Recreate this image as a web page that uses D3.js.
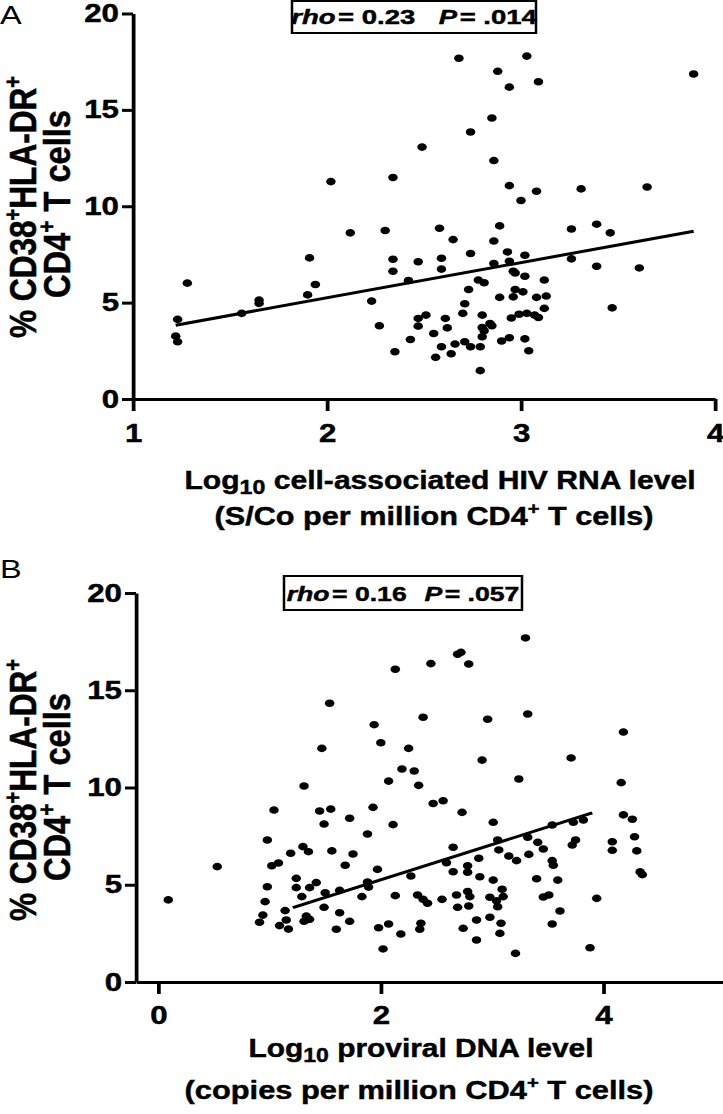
<!DOCTYPE html>
<html>
<head>
<meta charset="utf-8">
<script src="https://cdn.jsdelivr.net/npm/d3@7"></script>
<style>
  html, body { margin: 0; padding: 0; background: #fff; }
  svg { display: block; }
  text { font-family: "Liberation Sans", Arial, sans-serif; fill: #000; }
  text.heavy { stroke: #000; stroke-width: 0.45px; }
</style>
</head>
<body>
<svg id="fig"></svg>
<script>
// Panel A: cell-associated HIV RNA (log10) vs % CD38+HLA-DR+ CD4+ T cells
var rnaLog = [2.68, 3.03, 2.88, 2.94, 3.09, 3.89, 2.85, 2.74, 2.49, 2.86,
    2.02, 2.34, 2.94, 3.08, 3.31, 3.65, 3.00, 2.12, 2.30, 2.58,
    2.65, 2.89, 3.26, 3.39, 3.46, 1.91, 2.34, 2.47, 2.59, 2.74,
    2.86, 2.93, 3.02, 3.26, 3.39, 3.61, 2.34, 2.59, 2.86, 2.94,
    2.96, 2.97, 3.02, 3.12, 2.42, 2.78, 2.81, 1.94, 1.28, 2.73,
    2.97, 3.01, 2.96, 2.89, 3.08, 3.13, 1.90, 1.65, 1.65, 2.23,
    2.71, 3.12, 3.47, 1.56, 2.70, 2.80, 2.99, 3.03, 3.07, 3.09,
    2.95, 2.51, 2.47, 2.61, 1.23, 1.22, 1.23, 2.27, 2.47, 2.62,
    2.80, 2.84, 2.85, 2.81, 2.55, 2.43, 2.80, 2.90, 2.94, 3.02,
    2.71, 2.66, 2.59, 2.74, 2.79, 2.35, 2.64, 3.04, 2.56, 2.79];
var rnaCd38 = [17.68, 17.79, 17.00, 16.18, 16.46, 16.86, 14.58, 13.85, 13.07, 12.37,
    11.28, 11.49, 11.07, 10.78, 10.90, 11.00, 10.30, 8.62, 8.74, 8.86,
    8.27, 8.98, 8.82, 9.07, 8.62, 7.32, 7.25, 7.12, 7.30, 7.55,
    8.20, 7.63, 7.46, 7.27, 6.89, 6.80, 6.63, 6.74, 7.03, 7.15,
    6.63, 6.54, 6.37, 6.17, 6.15, 6.17, 6.03, 5.94, 6.01, 5.68,
    5.68, 5.56, 5.30, 5.27, 5.27, 5.34, 5.40, 5.13, 4.96, 5.08,
    4.94, 4.70, 4.73, 4.44, 4.44, 4.35, 4.40, 4.44, 4.35, 4.23,
    4.20, 4.35, 4.18, 4.18, 4.13, 3.26, 2.97, 3.80, 3.78, 3.69,
    3.71, 3.92, 3.80, 3.54, 3.40, 3.09, 3.23, 3.01, 3.18, 3.12,
    2.97, 2.85, 2.71, 2.71, 2.71, 2.45, 2.35, 2.50, 2.16, 1.47];
var rnaFitRange = [1.22, 3.89];
var rnaFitCoef = [1.605, 1.824];   // intercept, slope
var rnaStats = ["0.23", ".014"];   // rho, P
var rnaTicks = [1, 2, 3, 4];

// Panel B: proviral DNA (log10) vs % CD38+HLA-DR+ CD4+ T cells
var dnaLog = [3.30, 2.69, 2.72, 2.79, 2.45, 2.13, 1.54, 3.32, 2.38, 2.96,
    1.94, 4.18, 2.00, 1.47, 2.25, 2.91, 3.71, 2.19, 2.30, 2.07,
    3.24, 4.16, 1.31, 2.34, 1.04, 1.45, 1.55, 1.93, 2.47, 2.56,
    2.73, 1.49, 1.72, 2.11, 3.01, 3.54, 3.73, 3.82, 4.18, 4.26,
    0.98, 1.88, 3.05, 3.32, 3.41, 3.75, 3.72, 4.08, 4.28, 1.19,
    1.30, 1.35, 1.56, 1.75, 2.65, 3.06, 3.15, 3.33, 3.46, 4.08,
    4.30, 1.02, 1.08, 0.53, 1.68, 1.97, 2.59, 2.78, 2.88, 3.22,
    3.54, 3.55, 2.65, 2.78, 4.33, 4.35, 2.27, 1.24, 3.01, 3.40,
    3.59, 1.42, 1.88, 1.24, 0.98, 1.36, 1.63, 1.50, 1.89, 2.89,
    3.09, 3.10, 2.98, 2.78, 3.51, 3.46, 3.61, 3.94, 1.29, 1.83,
    2.13, 2.33, 2.38, 2.42, 2.55, 2.68, 2.80, 2.69, 2.79, 3.05,
    3.04, 0.96, 0.09, 1.14, 1.49, 1.63, 0.94, 1.33, 1.36, 1.31,
    0.91, 1.15, 1.09, 1.17, 1.60, 1.72, 1.98, 2.07, 2.18, 2.35,
    2.36, 2.74, 2.86, 2.98, 3.08, 3.07, 3.54, 2.86, 2.02, 3.21, 3.88];
var dnaCd38 = [17.69, 16.85, 16.95, 16.35, 16.37, 16.08, 14.33, 13.78, 13.61, 13.51,
    13.23, 12.85, 12.30, 12.01, 12.01, 11.41, 11.52, 10.95, 10.85, 10.33,
    10.44, 10.25, 10.08, 10.11, 8.84, 8.79, 8.89, 8.98, 9.18, 9.32,
    8.72, 8.12, 8.42, 8.09, 8.21, 8.07, 8.21, 8.33, 8.59, 8.37,
    7.30, 7.61, 7.30, 7.44, 7.18, 7.30, 7.04, 7.21, 7.47, 6.62,
    6.96, 6.70, 6.74, 6.58, 6.93, 6.79, 6.48, 6.56, 6.84, 6.77,
    6.74, 5.98, 6.12, 5.93, 6.00, 5.79, 6.13, 5.98, 6.36, 6.24,
    6.24, 6.00, 5.67, 5.64, 5.66, 5.52, 5.45, 5.33, 5.24, 5.31,
    5.24, 5.11, 5.14, 4.85, 4.90, 4.85, 4.71, 4.59, 4.88, 5.41,
    4.77, 4.39, 4.36, 4.65, 4.47, 4.37, 3.65, 4.30, 4.39, 4.39,
    4.44, 4.47, 4.25, 4.05, 4.25, 4.47, 4.39, 3.84, 3.91, 3.87,
    4.18, 4.13, 4.22, 3.67, 3.84, 3.56, 3.44, 3.39, 3.22, 3.12,
    3.07, 3.19, 2.90, 2.72, 2.71, 3.12, 2.79, 2.98, 2.47, 2.71,
    3.02, 2.76, 3.19, 3.33, 3.02, 2.50, 2.98, 2.16, 1.70, 1.47, 1.76];
var dnaFitRange = [1.21, 3.90];
var dnaFitCoef = [1.625, 1.814];
var dnaStats = ["0.16", ".057"];
var dnaTicks = [0, 2, 4];

var yTicks = [0, 5, 10, 15, 20];

// the published figure is stretched sideways, so draw in a narrower
// coordinate space and let the viewBox widen it
var WIDTH = 723, HEIGHT = 1114, SX = 1.25;
var nx = function(v){ return v / SX; };
var FONT = "'Liberation Sans', Arial, sans-serif";

var svg = d3.select("#fig")
    .attr("width", WIDTH)
    .attr("height", HEIGHT)
    .attr("viewBox", [0, 0, WIDTH / SX, HEIGHT].join(" "))
    .attr("preserveAspectRatio", "none");

// squeeze/stretch a text element (anchored middle) to a wanted length
var fitText = function(t, cx, cy, target, rotate){
    var w = t.node().getComputedTextLength();
    var k = target / w;
    t.attr("text-anchor", "middle")
     .attr("transform", "translate(" + cx + "," + cy + ")" + (rotate ? " rotate(-90)" : "") + " scale(" + k + ",1)");
};

var drawPanel = function(o){
    var g = svg.append("g");

    var x = d3.scaleLinear().domain(o.xDomain).range([nx(o.xRange[0]), nx(o.xRange[1])]);
    var y = d3.scaleLinear().domain([0, 20]).range(o.yRange);

    var yAxis = g.append("g")
        .attr("transform", "translate(" + x.range()[0] + ",0)")
        .call(d3.axisLeft(y).tickValues(yTicks).tickFormat(d3.format("d"))
            .tickSize(nx(11)).tickSizeOuter(0).tickPadding(nx(3)));
    var xAxis = g.append("g")
        .attr("transform", "translate(0," + y(0) + ")")
        .call(d3.axisBottom(x).tickValues(o.xTicks).tickFormat(d3.format("d"))
            .tickSize(12).tickSizeOuter(0).tickPadding(o.xPad));

    [yAxis, xAxis].forEach(function(a){
        a.selectAll("path, line").attr("stroke", "#000").attr("stroke-width", 3);
        a.selectAll("text")
            .attr("class", "heavy")
            .attr("font-size", 25)
            .attr("font-weight", "bold")
            .attr("font-family", FONT);
    });

    // points
    g.selectAll("circle")
        .data(d3.range(o.xs.length))
        .join("circle")
        .attr("cx", function(i){ return x(o.xs[i]); })
        .attr("cy", function(i){ return y(o.ys[i]); })
        .attr("r", 3.8)
        .attr("fill", "#000");

    // regression line
    var fit = d3.line()
        .x(function(d){ return x(d); })
        .y(function(d){ return y(o.coef[0] + o.coef[1] * d); });
    g.append("path")
        .attr("d", fit(o.fitRange))
        .attr("fill", "none")
        .attr("stroke", "#000")
        .attr("stroke-width", 3);

    // rho / P box
    g.append("rect")
        .attr("x", nx(o.box[0]))
        .attr("y", o.box[1])
        .attr("width", nx(o.box[2] - o.box[0]))
        .attr("height", o.box[3] - o.box[1])
        .attr("fill", "none")
        .attr("stroke", "#000")
        .attr("stroke-width", 2);
    var st = g.append("text").attr("class", "heavy").attr("font-size", 21).attr("font-weight", "bold");
    st.append("tspan").attr("font-style", "italic").text("rho");
    st.append("tspan").attr("dx", 2).text("= " + o.stats[0]);
    st.append("tspan").attr("dx", o.statGap).attr("font-style", "italic").text("P");
    st.append("tspan").attr("dx", 2).text("= " + o.stats[1]);
    fitText(st, nx((o.box[0] + o.box[2]) / 2), o.statBase, nx(o.statWidth));

    // panel letter
    g.append("text")
        .attr("x", 0)
        .attr("y", o.letterBase)
        .attr("font-size", 26)
        .text(o.letter);

    // y title, two rotated lines
    var yt1 = g.append("text").attr("class", "heavy").attr("font-size", 30).attr("font-weight", "bold");
    yt1.append("tspan").text("% CD38");
    yt1.append("tspan").attr("font-size", 19).attr("dy", -12).text("+");
    yt1.append("tspan").attr("dy", 12).text("HLA-DR");
    yt1.append("tspan").attr("font-size", 19).attr("dy", -12).text("+");
    fitText(yt1, nx(36), o.yTitleMid, 262, true);

    var yt2 = g.append("text").attr("class", "heavy").attr("font-size", 30).attr("font-weight", "bold");
    yt2.append("tspan").text("CD4");
    yt2.append("tspan").attr("font-size", 19).attr("dy", -12).text("+");
    yt2.append("tspan").attr("dy", 12).text(" T cells");
    fitText(yt2, nx(70), o.yTitleMid - 3, 188, true);

    // x title, two lines
    var xt1 = g.append("text").attr("class", "heavy").attr("font-size", 26).attr("font-weight", "bold");
    xt1.append("tspan").text("Log");
    xt1.append("tspan").attr("font-size", 20).attr("dy", 5).text("10");
    xt1.append("tspan").attr("dy", -5).text(" " + o.xTitle[0]);
    fitText(xt1, nx(o.xTitlePos[0]), o.xTitlePos[1], nx(o.xTitleWidth[0]));

    var xt2 = g.append("text").attr("class", "heavy").attr("font-size", 26).attr("font-weight", "bold");
    xt2.append("tspan").text("(" + o.xTitle[1] + " CD4");
    xt2.append("tspan").attr("font-size", 17).attr("dy", -11).text("+");
    xt2.append("tspan").attr("dy", 11).text(" T cells)");
    fitText(xt2, nx(o.xTitlePos[2]), o.xTitlePos[3], nx(o.xTitleWidth[1]));
};

drawPanel({
    letter: "A", letterBase: 24,
    xs: rnaLog, ys: rnaCd38,
    xDomain: [1, 4], xRange: [133, 715], yRange: [399, 13.5],
    xTicks: rnaTicks, xPad: 13,
    coef: rnaFitCoef, fitRange: rnaFitRange,
    stats: rnaStats, box: [292, 1, 536, 33], statBase: 24, statWidth: 217, statGap: 18,
    yTitleMid: 207,
    xTitle: ["cell-associated HIV RNA level", "S/Co per million"],
    xTitlePos: [440, 489, 434, 525], xTitleWidth: [511, 439]
});

drawPanel({
    letter: "B", letterBase: 578,
    xs: dnaLog, ys: dnaCd38,
    xDomain: [-0.2, 5.1], xRange: [136, 725.8], yRange: [982, 593],
    xTicks: dnaTicks, xPad: 12,
    coef: dnaFitCoef, fitRange: dnaFitRange,
    stats: dnaStats, box: [284, 576, 522, 610], statBase: 601, statWidth: 210, statGap: 14,
    yTitleMid: 790,
    xTitle: ["proviral DNA level", "copies per million"],
    xTitlePos: [421, 1057, 419, 1099], xTitleWidth: [345, 469]
});
</script>
</body>
</html>
